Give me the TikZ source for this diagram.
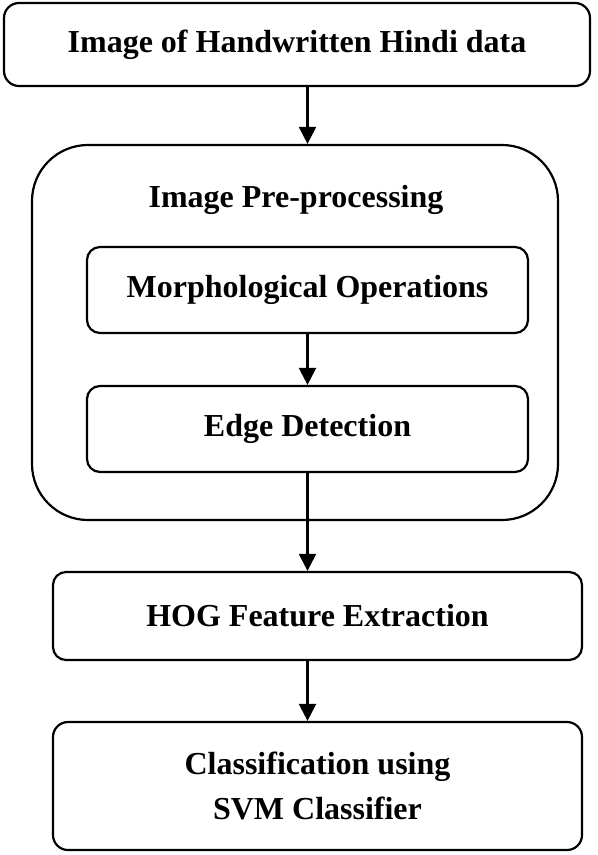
\documentclass[tikz,border=0pt]{standalone}
\usepackage{fontspec}
\setmainfont{Liberation Serif}
\usetikzlibrary{arrows.meta,positioning,calc}

\begin{document}
\begin{tikzpicture}[x=0.5pt, y=-0.5pt,
    arr/.style={-{Triangle[length=8.5pt, width=8.5pt]}, line width=1.1pt},
    stage/.style={draw, line width=1.1pt, rounded corners=6.5pt, inner sep=0pt,
      align=center, font=\fontsize{16}{22.5}\selectfont\bfseries},
    lbl/.style={font=\fontsize{16}{20}\selectfont\bfseries},
  ]
  \useasboundingbox (0,0) rectangle (598,855);

  % Input
  \node[stage, rounded corners=7.5pt, minimum width=293pt, minimum height=41.5pt]
    (input) at (297,44.5) {Image of Handwritten Hindi data};

  % Pre-processing block
  \node[draw, line width=1.1pt, rounded corners=28pt, minimum width=263pt,
        minimum height=187.5pt] (pre) at (295,332.5) {};
  \node[lbl] (pretitle) at (296,200) {Image Pre-processing};
  \node[stage, minimum width=220.5pt, minimum height=43pt]
    (morph) at (307.5,290) {Morphological Operations};
  \node[stage, minimum width=220.5pt, minimum height=43pt]
    (edge) at (307.5,429) {Edge Detection};

  % Features and classifier
  \node[stage, minimum width=264.5pt, minimum height=44pt]
    (hog) at (317.5,616) {HOG Feature Extraction};
  \node[stage, rounded corners=7.5pt, minimum width=264.5pt, minimum height=64pt]
    (svm) at (317.5,786) {Classification using\\SVM Classifier};

  % Arrows
  \draw[arr] (input.south -| morph) -- (pre.north -| morph);
  \draw[arr] (morph) -- (edge);
  \draw[arr] (edge) -- (hog.north -| edge);
  \draw[arr] (hog.south -| edge) -- (svm.north -| edge);

\end{tikzpicture}
\end{document}
